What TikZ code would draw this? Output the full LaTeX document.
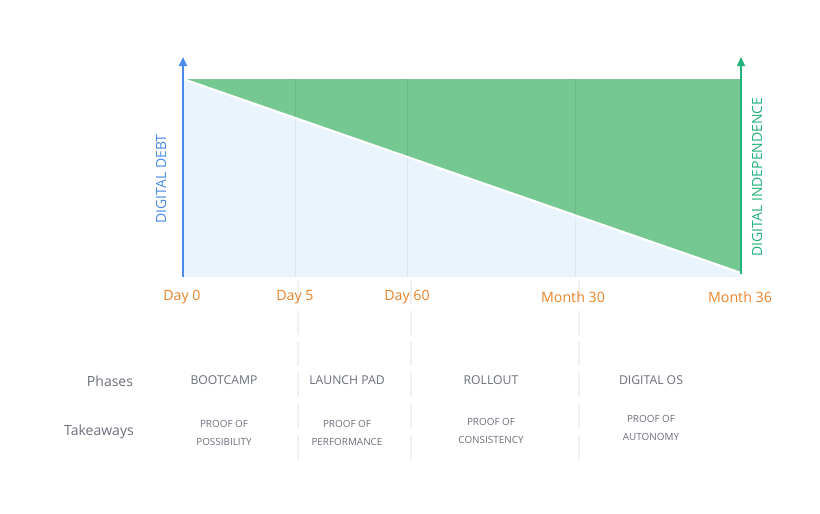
\documentclass[tikz,border=0pt]{standalone}
\usepackage{fontspec}
\setmainfont{Open Sans}
\usetikzlibrary{arrows.meta}
\definecolor{axblue}{HTML}{4A8BE8}
\definecolor{axgreen}{HTML}{22B27B}
\definecolor{fillgreen}{HTML}{76C893}
\definecolor{fillblue}{HTML}{EAF4FD}
\definecolor{orng}{HTML}{E8832A}
\definecolor{txtgray}{HTML}{6B6F7A}
\definecolor{dashgray}{HTML}{EFF0F2}
\tikzset{
  ticklbl/.style={text=orng, font=\fontsize{14.2}{16}\selectfont, anchor=center},
  rowlbl/.style={text=txtgray, font=\fontsize{14}{16}\selectfont},
  phaselbl/.style={text=txtgray, font=\fontsize{12.2}{14}\selectfont},
  takelbl/.style={text=txtgray, font=\fontsize{9.9}{18}\selectfont, align=center},
  axlbl/.style={rotate=90, font=\fontsize{14}{16}\selectfont},
  divline/.style={dashgray, line width=1.1pt, dash pattern=on 24pt off 7pt},
  gridln/.style={line width=0.7pt},
  axisarrow/.style={line width=1.6pt, -{Triangle[width=8pt,length=9pt]}}
}
\begin{document}
\begin{tikzpicture}[x=1pt,y=-1pt]
\useasboundingbox (0,0) rectangle (820,514);
% regions
\fill[fillblue] (183,79) -- (741,273) -- (741,277) -- (183,277) -- cycle;
\fill[fillgreen] (183,79) -- (741,79) -- (741,273) -- cycle;
% grid lines in chart
\foreach \gx/\gy in {295/117.9, 407/156.9, 575/215.3} {
  \draw[gridln, black!8!fillgreen] (\gx,79) -- (\gx,\gy);
  \draw[gridln, black!5!fillblue] (\gx,\gy) -- (\gx,277);
}
% white diagonal
\draw[white, line width=2.2pt] (183,79) -- (741,273);
% dashed dividers
\foreach \dx in {298, 411, 579} {
  \draw[divline] (\dx,280) -- (\dx,462);
}
% axes
\coordinate (lb) at (183,277);
\coordinate (lt) at (183,57);
\coordinate (rb) at (741,274);
\coordinate (rt) at (741,57);
\draw[axisarrow, axblue] (lb) -- (lt);
\draw[axisarrow, axgreen] (rb) -- (rt);
% axis labels
\node[axlbl, text=axblue] (debt) at (161,179) {DIGITAL DEBT};
\node[axlbl, text=axgreen] (indep) at (757,177) {DIGITAL INDEPENDENCE};
% tick labels
\node[ticklbl] (d0) at (182,297) {Day 0};
\node[ticklbl] (d5) at (295,297) {Day 5};
\node[ticklbl] (d60) at (407,297) {Day 60};
\node[ticklbl] (m30) at (573,297) {Month 30};
\node[ticklbl] (m36) at (740,297) {Month 36};
% rows
\node[rowlbl] (phases) at (110,381) {Phases};
\node[rowlbl] (takeaways) at (99,432) {Takeaways};
\node[phaselbl] (p1) at (224,380) {BOOTCAMP};
\node[phaselbl] (p2) at (347,380) {LAUNCH PAD};
\node[phaselbl] (p3) at (491,380) {ROLLOUT};
\node[phaselbl] (p4) at (651,380) {DIGITAL OS};
\node[takelbl] (t1) at (224,433) {PROOF OF\\POSSIBILITY};
\node[takelbl] (t2) at (347,433) {PROOF OF\\PERFORMANCE};
\node[takelbl] (t3) at (491,431) {PROOF OF\\CONSISTENCY};
\node[takelbl] (t4) at (651,428) {PROOF OF\\AUTONOMY};
\end{tikzpicture}
\end{document}
